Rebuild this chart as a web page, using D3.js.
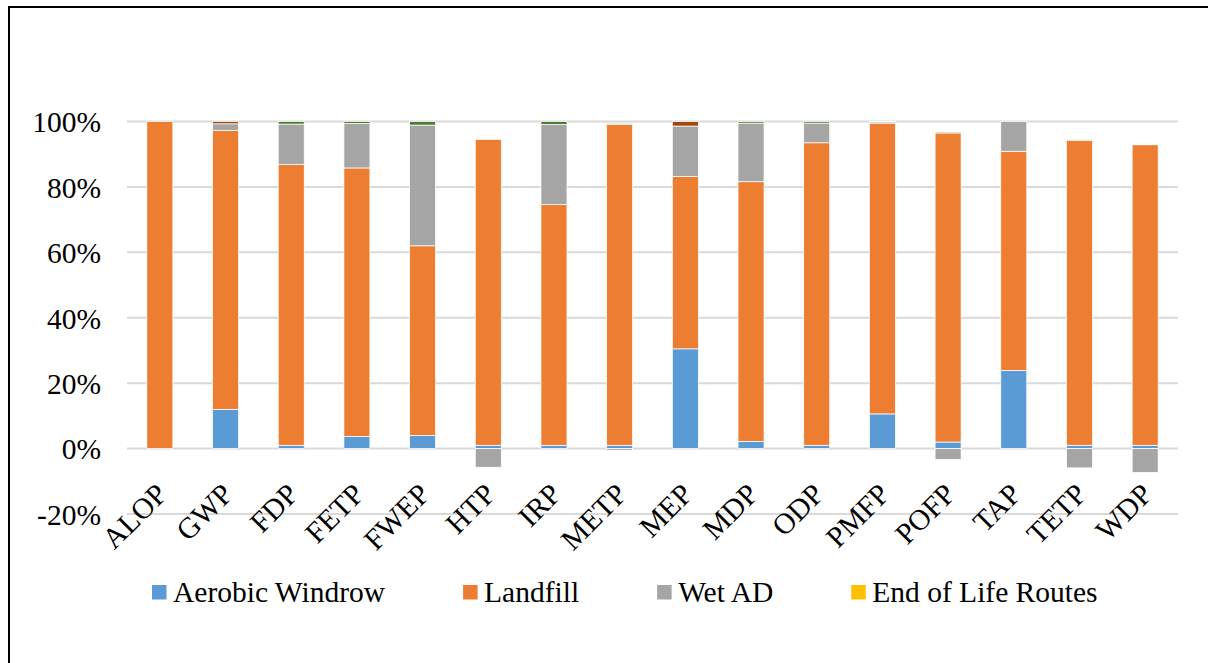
<!DOCTYPE html>
<html>
<head>
<meta charset="utf-8">
<script src="https://cdn.jsdelivr.net/npm/d3@7"></script>
<style>
  html, body { margin: 0; padding: 0; background: #fff; }
  svg { display: block; }
  svg text { font-family: "Liberation Serif", "Times New Roman", serif; fill: #000; }
</style>
</head>
<body>
<svg id="chart" width="1208" height="663"></svg>
<script>
// Impact categories (x axis)
const categories = ["ALOP","GWP","FDP","FETP","FWEP","HTP","IRP","METP","MEP","MDP","ODP","PMFP","POFP","TAP","TETP","WDP"];

// Contribution of each route to each impact category (%)
const aerobicWindrow = [0, 12.0, 1.0, 3.7, 4.0, 1.0, 1.0, 1.0, 30.5, 2.2, 1.0, 10.6, 2.0, 23.9, 1.0, 1.0];
const landfill       = [100, 85.3, 85.9, 82.1, 58.0, 93.5, 73.6, 98.1, 52.7, 79.4, 92.5, 88.9, 94.5, 67.0, 93.2, 91.9];
const wetAD          = [0, 2.0, 12.3, 13.6, 36.9, -5.7, 24.5, -0.5, 15.4, 17.9, 6.0, 0.4, -3.3, 9.1, -5.9, -7.3];
const endOfLife      = [0, 0, 0, 0, 0, 0, 0, 0, 0, 0, 0, 0, 0, 0, 0, 0];
// Minor routes stacked on top (not listed in the legend)
const minorRouteA    = [0, 0.7, 0, 0, 0, 0, 0, 0, 1.4, 0, 0, 0, 0, 0, 0, 0];
const minorRouteB    = [0, 0, 0.8, 0.6, 1.1, 0, 0.9, 0.3, 0, 0.5, 0.5, 0.1, 0.3, 0, 0.2, 0.2];

// Y axis ticks
const yTicks = [-20, 0, 20, 40, 60, 80, 100];

const seriesKeys   = ["Aerobic Windrow", "Landfill", "Wet AD", "End of Life Routes", "minorA", "minorB"];
const seriesValues = [aerobicWindrow, landfill, wetAD, endOfLife, minorRouteA, minorRouteB];
const seriesColors = ["#5B9BD5", "#ED7D31", "#A5A5A5", "#FFC000", "#9E480E", "#4B7A30"];
const legendKeys   = seriesKeys.slice(0, 4);

const rows = categories.map((c, i) => {
  const r = { category: c };
  seriesKeys.forEach((k, j) => { r[k] = seriesValues[j][i]; });
  return r;
});

const FONT = '"Liberation Serif", "Times New Roman", serif';
const FONT_SIZE = "29.5px";
const svg = d3.select("#chart");

// Outer frame
svg.append("rect")
  .attr("x", 9).attr("y", 7)
  .attr("width", 1220).attr("height", 700)
  .attr("fill", "none").attr("stroke", "#000").attr("stroke-width", 2);

const plot = { left: 127, right: 1178, top: 121.5, bottom: 514 };

const x = d3.scaleBand()
  .domain(categories)
  .range([plot.left, plot.right])
  .paddingInner(0.604)
  .paddingOuter(0.302);

const y = d3.scaleLinear()
  .domain([-20, 100])
  .range([plot.bottom, plot.top]);

// Gridlines
svg.append("g")
  .selectAll("line")
  .data(yTicks)
  .join("line")
  .attr("x1", plot.left).attr("x2", plot.right)
  .attr("y1", d => y(d)).attr("y2", d => y(d))
  .attr("stroke", "#D9D9D9").attr("stroke-width", 2);

// Y axis labels
const yAxis = svg.append("g")
  .attr("transform", `translate(${plot.left - 26},0)`)
  .call(d3.axisLeft(y).tickValues(yTicks).tickFormat(d => d + "%").tickSize(0).tickPadding(0));
yAxis.attr("font-family", null).attr("font-size", null);
yAxis.select(".domain").remove();
yAxis.selectAll("text")
  .style("font-family", FONT)
  .style("font-size", FONT_SIZE)
  .attr("fill", "#000")
  .attr("dy", "0.35em");

// Stacked bars
const stack = d3.stack()
  .keys(seriesKeys)
  .offset(d3.stackOffsetDiverging);
const stacked = stack(rows);

svg.append("g")
  .selectAll("g")
  .data(stacked)
  .join("g")
  .attr("fill", (d, i) => seriesColors[i])
  .selectAll("rect")
  .data(d => d.filter(p => p[1] !== p[0]))
  .join("rect")
  .attr("x", d => x(d.data.category))
  .attr("width", x.bandwidth())
  .attr("y", d => y(Math.max(d[0], d[1])))
  .attr("height", d => Math.abs(y(d[0]) - y(d[1])))
  .attr("stroke", "#fff")
  .attr("stroke-width", 0.75);

// Category labels, rotated
svg.append("g")
  .selectAll("text")
  .data(categories)
  .join("text")
  .attr("transform", d => `translate(${x(d) + x.bandwidth() / 2 + 9},${plot.bottom - 18}) rotate(-45)`)
  .attr("text-anchor", "end")
  .style("font-family", FONT)
  .style("font-size", FONT_SIZE)
  .text(d => d);

// Legend
const legend = svg.append("g").attr("transform", "translate(152,0)");
let lx = 0;
legendKeys.forEach((k, i) => {
  const g = legend.append("g").attr("transform", `translate(${lx},0)`);
  g.append("rect")
    .attr("x", 0).attr("y", 585)
    .attr("width", 14.5).attr("height", 14.5)
    .attr("fill", seriesColors[i]);
  const t = g.append("text")
    .attr("x", 21).attr("y", 602)
    .style("font-family", FONT)
    .style("font-size", FONT_SIZE)
    .text(k);
  lx += 21 + t.node().getComputedTextLength() + 78;
});
</script>
</body>
</html>
